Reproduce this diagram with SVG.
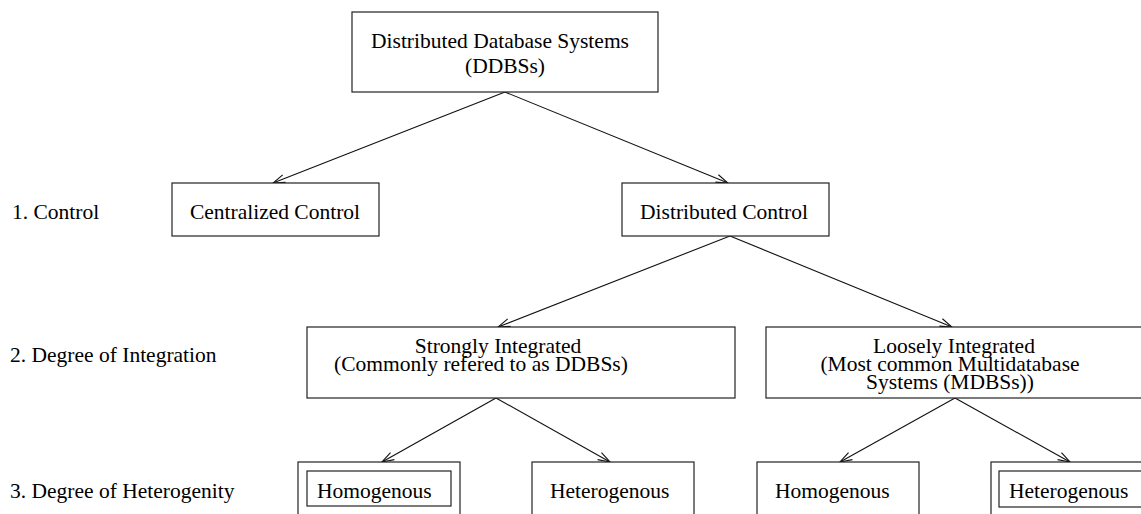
<svg xmlns="http://www.w3.org/2000/svg" width="1141" height="514" viewBox="0 0 1141 514">
  <style>
    .box { fill: #fff; stroke: #222; stroke-width: 1.2; }
    .t { font-family: "Liberation Serif", "Times New Roman", serif; font-size: 21.5px; fill: #000; }
    .c { text-anchor: middle; }
    .edge { fill: none; stroke: #111; stroke-width: 1.1; marker-end: url(#open); }
  </style>
  <defs>
    <marker id="open" markerUnits="userSpaceOnUse" markerWidth="14" markerHeight="10" refX="13" refY="5" orient="auto">
      <path d="M1,1 L13,5 L1,9" fill="none" stroke="#111" stroke-width="1.1"/>
    </marker>
  </defs>
  <rect width="1141" height="514" fill="#fff"/>

  <!-- level captions -->
  <g id="levels">
    <text class="t" x="12" y="219">1. Control</text>
    <text class="t" x="10" y="362">2. Degree of Integration</text>
    <text class="t" x="10" y="498">3. Degree of Heterogenity</text>
  </g>

  <!-- connectors -->
  <g id="connectors">
    <line class="edge" x1="505" y1="92" x2="273" y2="183"/>
    <line class="edge" x1="505" y1="92" x2="728" y2="183"/>
    <line class="edge" x1="730" y1="236" x2="498" y2="327"/>
    <line class="edge" x1="730" y1="236" x2="952" y2="327"/>
    <line class="edge" x1="496" y1="398" x2="382" y2="462"/>
    <line class="edge" x1="496" y1="398" x2="610" y2="462"/>
    <line class="edge" x1="955" y1="398" x2="840" y2="462"/>
    <line class="edge" x1="955" y1="398" x2="1070" y2="462"/>
  </g>

  <g id="ddbs">
    <rect class="box" x="352" y="12" width="306" height="80"/>
    <text class="t c" x="500" y="48">Distributed Database Systems</text>
    <text class="t c" x="505" y="73">(DDBSs)</text>
  </g>

  <g id="centralized">
    <rect class="box" x="172" y="183" width="207" height="53"/>
    <text class="t c" x="275" y="219">Centralized Control</text>
  </g>

  <g id="distributed">
    <rect class="box" x="622" y="183" width="207" height="53"/>
    <text class="t c" x="724" y="219">Distributed Control</text>
  </g>

  <g id="strongly">
    <rect class="box" x="307" y="327" width="428" height="71"/>
    <text class="t c" x="498" y="353">Strongly Integrated</text>
    <text class="t c" x="481" y="371">(Commonly refered to as DDBSs)</text>
  </g>

  <g id="loosely">
    <rect class="box" x="766" y="327" width="380" height="71"/>
    <text class="t c" x="954" y="353">Loosely Integrated</text>
    <text class="t c" x="950" y="371">(Most common Multidatabase</text>
    <text class="t c" x="950" y="389">Systems (MDBSs))</text>
  </g>

  <g id="homogenous-1">
    <rect class="box" x="298" y="462" width="162" height="60"/>
    <rect class="box" x="307" y="471" width="144" height="35"/>
    <text class="t" x="317" y="498">Homogenous</text>
  </g>

  <g id="heterogenous-1">
    <rect class="box" x="532" y="462" width="162" height="60"/>
    <text class="t" x="550" y="498">Heterogenous</text>
  </g>

  <g id="homogenous-2">
    <rect class="box" x="757" y="462" width="162" height="60"/>
    <text class="t" x="775" y="498">Homogenous</text>
  </g>

  <g id="heterogenous-2">
    <rect class="box" x="991" y="462" width="162" height="60"/>
    <rect class="box" x="999" y="471" width="146" height="36"/>
    <text class="t" x="1009" y="498">Heterogenous</text>
  </g>
</svg>
